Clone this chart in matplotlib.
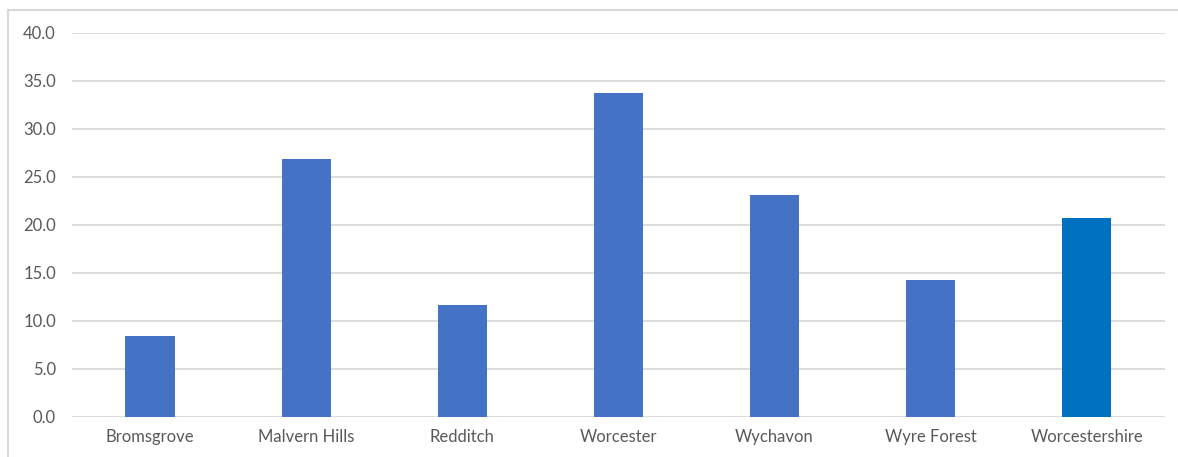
import matplotlib.pyplot as plt
from matplotlib.lines import Line2D
import numpy as np

plt.rcParams['font.family'] = ['Lato', 'DejaVu Sans']

districts = ['Bromsgrove', 'Malvern Hills', 'Redditch', 'Worcester',
             'Wychavon', 'Wyre Forest', 'Worcestershire']
values = [8.4, 26.8, 11.6, 33.7, 23.1, 14.2, 20.7]
bar_colors = ['#4472C4'] * 6 + ['#0070C0']

fig = plt.figure(figsize=(11.78, 4.57), dpi=100)
ax = fig.add_axes([0.0611, 0.0882, 0.9278, 0.8402])

x = np.arange(len(districts))
ax.bar(x, values, width=0.315, color=bar_colors, zorder=3)

ax.set_xlim(-0.5, len(districts) - 0.5)
ax.set_ylim(0, 40)
ax.set_yticks(np.arange(0, 41, 5))
ax.set_yticklabels([f'{v:.1f}' for v in np.arange(0, 41, 5)])
ax.set_xticks(x)
ax.set_xticklabels(districts)

ax.grid(axis='y', color='#D9D9D9', linewidth=1.3, zorder=0)
ax.tick_params(axis='both', length=0, labelsize=12, labelcolor='#595959')
ax.tick_params(axis='y', pad=11.5)
ax.tick_params(axis='x', pad=9)
for s in ax.spines.values():
    s.set_visible(False)

# chart area outline (top and left edges)
W, H = 1178, 457
fig.add_artist(Line2D([8 / W, 8 / W], [0, 1 - 10 / H], transform=fig.transFigure,
                      color='#D9D9D9', linewidth=1.5))
fig.add_artist(Line2D([8 / W, 1], [1 - 10 / H, 1 - 10 / H], transform=fig.transFigure,
                      color='#D9D9D9', linewidth=1.5))

fig.savefig('out.png', dpi=100, facecolor='white')
